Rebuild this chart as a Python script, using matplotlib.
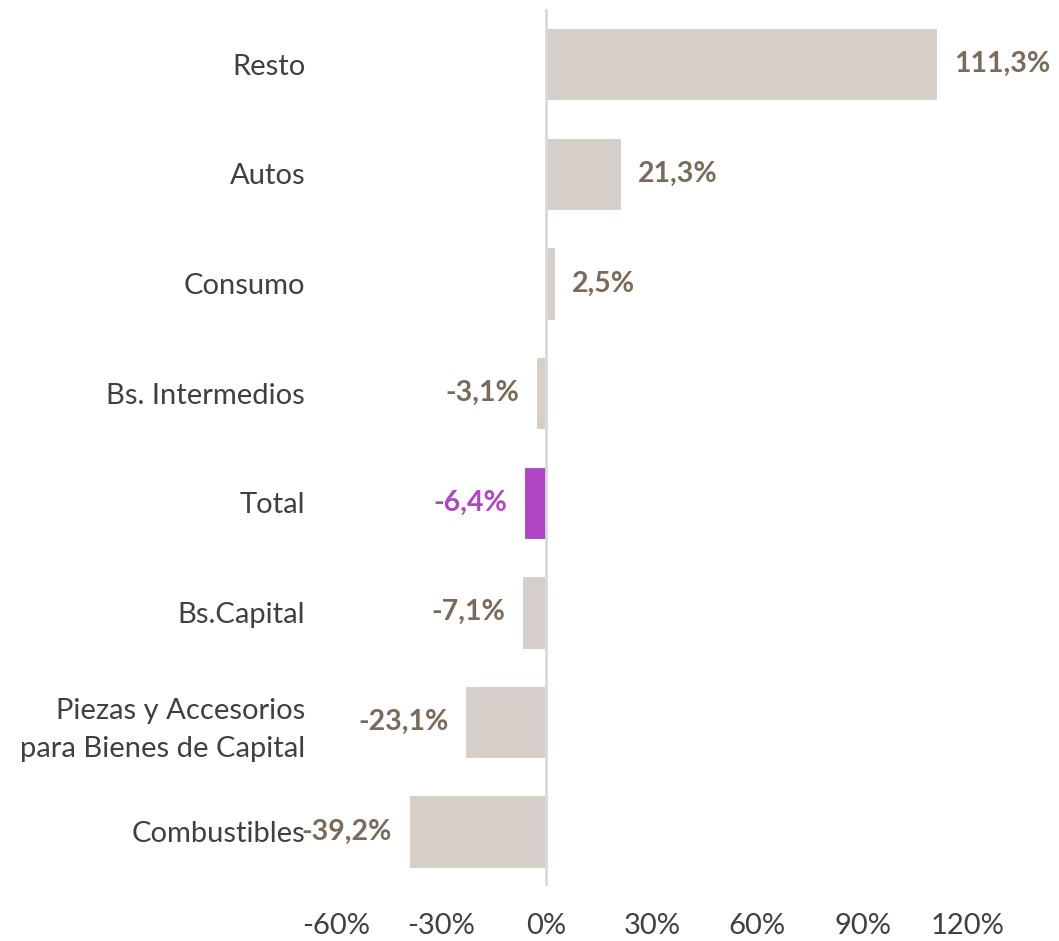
import matplotlib.pyplot as plt

categories = ["Resto", "Autos", "Consumo", "Bs. Intermedios", "Total", "Bs.Capital",
              "Piezas y Accesorios\npara Bienes de Capital", "Combustibles"]
values = [111.3, 21.3, 2.5, -3.1, -6.4, -7.1, -23.1, -39.2]
value_labels = ["111,3%", "21,3%", "2,5%", "-3,1%", "-6,4%", "-7,1%", "-23,1%", "-39,2%"]
xticks = [-60, -30, 0, 30, 60, 90, 120]

plt.rcParams['font.family'] = ['Lato', 'DejaVu Sans']

bar_color = "#D6CFC9"
hl_color = "#B046C6"
lbl_color = "#7A6A5A"

fig = plt.figure(figsize=(10.59, 9.41), dpi=100)
ax = fig.add_axes([0.317, 0.058, 0.597, 0.932])

ypos = list(range(len(categories)))
colors = [hl_color if c == "Total" else bar_color for c in categories]
ax.barh(ypos, values, height=0.66, color=colors, edgecolor="white", linewidth=0.8, zorder=2)
ax.axvline(0, color="#D9D9D9", linewidth=2, zorder=3)

for y, v, t, c in zip(ypos, values, value_labels, categories):
    col = hl_color if c == "Total" else lbl_color
    if v >= 0:
        ax.annotate(t, (v, y), xytext=(12, 0), textcoords="offset points",
                    ha="left", va="center", fontsize=20.5, fontweight="bold", color=col)
    else:
        ax.annotate(t, (v, y), xytext=(-12, 0), textcoords="offset points",
                    ha="right", va="center", fontsize=20.5, fontweight="bold", color=col)

ax.set_xlim(-60, 120)
ax.set_ylim(len(categories) - 0.5, -0.5)
ax.set_xticks(xticks)
ax.set_xticklabels([f"{x}%" for x in xticks], fontsize=21, color="#404040")
ax.set_yticks(ypos)
ax.set_yticklabels(categories, fontsize=21, color="#404040", linespacing=1.55)
ax.tick_params(axis="y", length=0, pad=22)
ax.tick_params(axis="x", length=0, pad=19)
for s in ax.spines.values():
    s.set_visible(False)

fig.savefig("out.png", dpi=100)
